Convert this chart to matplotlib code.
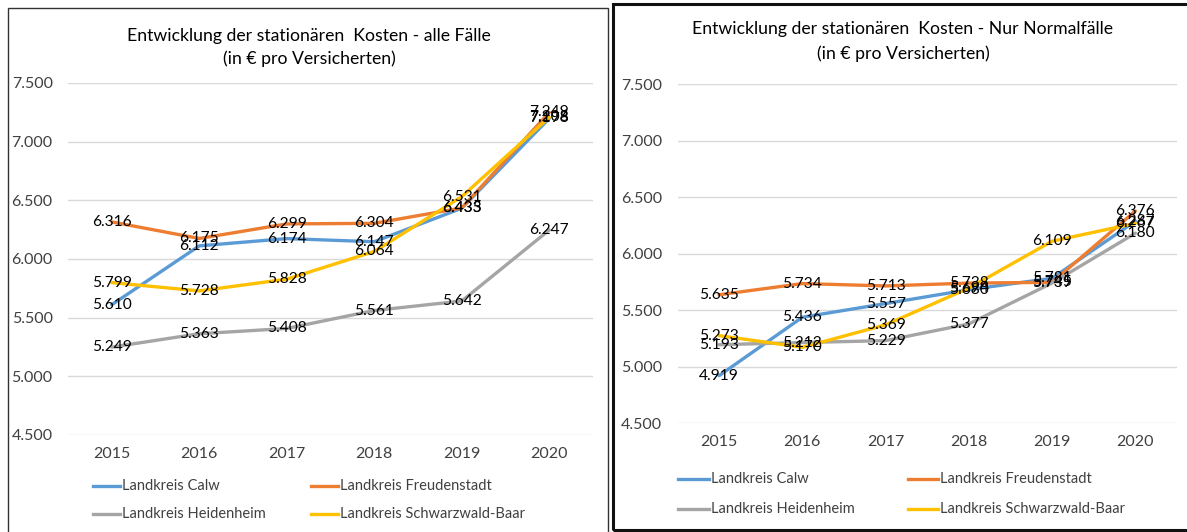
import matplotlib
matplotlib.use("Agg")
import matplotlib.pyplot as plt
from matplotlib.lines import Line2D
from matplotlib.patches import Rectangle
from matplotlib.ticker import FuncFormatter

years = ['2015', '2016', '2017', '2018', '2019', '2020']
series_names = ['Landkreis Calw', 'Landkreis Freudenstadt',
                'Landkreis Heidenheim', 'Landkreis Schwarzwald-Baar']
colors = ['#5B9BD5', '#ED7D31', '#A5A5A5', '#FFC000']

# Left chart: alle Fälle
alle_calw = [5610, 6112, 6174, 6147, 6433, 7198]
alle_freudenstadt = [6316, 6175, 6299, 6304, 6435, 7249]
alle_heidenheim = [5249, 5363, 5408, 5561, 5642, 6247]
alle_schwarzwald = [5799, 5728, 5828, 6064, 6531, 7208]

# Right chart: nur Normalfälle
norm_calw = [4919, 5436, 5557, 5680, 5781, 6287]
norm_freudenstadt = [5635, 5734, 5713, 5738, 5745, 6376]
norm_heidenheim = [5193, 5212, 5229, 5377, 5739, 6180]
norm_schwarzwald = [5273, 5170, 5369, 5694, 6109, 6267]

y_ticks = [4500, 5000, 5500, 6000, 6500, 7000, 7500]

title_left = 'Entwicklung der stationären  Kosten - alle Fälle'
title_right = 'Entwicklung der stationären  Kosten - Nur Normalfälle'
subtitle = '(in € pro Versicherten)'

FONT = 'Lato'
plt.rcParams['font.family'] = [FONT, 'DejaVu Sans']

W, H = 1187, 532
fig = plt.figure(figsize=(W / 100, H / 100), dpi=100)


def fx(px):
    return px / W


def fy(py):
    return 1 - py / H


def de_fmt(v, pos=None):
    return f'{int(round(v)):,}'.replace(',', '.')


def make_chart(x0, x1, ytop, ybot, data, title, title_cx, t1y, t2y,
               leg_rows, leg_cols):
    ax = fig.add_axes([fx(x0), fy(ybot), fx(x1) - fx(x0), fy(ytop) - fy(ybot)])
    ax.set_xlim(-0.5, len(years) - 0.5)
    ax.set_ylim(min(y_ticks), max(y_ticks))
    ax.set_yticks(y_ticks)
    ax.yaxis.set_major_formatter(FuncFormatter(de_fmt))
    ax.set_xticks(range(len(years)))
    ax.set_xticklabels(years)
    for s in ax.spines.values():
        s.set_visible(False)
    ax.tick_params(axis='both', length=0, labelsize=11.5, colors='#404040')
    ax.tick_params(axis='y', pad=11)
    ax.tick_params(axis='x', pad=9)
    ax.grid(axis='y', color='#D9D9D9', linewidth=1)
    ax.set_axisbelow(True)
    xs = list(range(len(years)))
    for vals, c in zip(data, colors):
        ax.plot(xs, vals, color=c, linewidth=2.4, solid_capstyle='round', zorder=2)
    for vals in data:
        for x, v in zip(xs, vals):
            ax.text(x, v, de_fmt(v), ha='center', va='center', fontsize=11.2,
                    color='#000000', zorder=5)
    fig.text(fx(title_cx), fy(t1y), title, ha='center', va='center',
             fontsize=12.7, color='#000000')
    fig.text(fx(title_cx), fy(t2y), subtitle, ha='center', va='center',
             fontsize=12.7, color='#000000')
    # legend
    for i, (name, c) in enumerate(zip(series_names, colors)):
        row = i // 2
        col = i % 2
        hx0, hx1 = leg_cols[col]
        yy = leg_rows[row]
        fig.add_artist(Line2D([fx(hx0), fx(hx1)], [fy(yy), fy(yy)],
                              color=c, linewidth=2.4, transform=fig.transFigure))
        fig.text(fx(hx1 + 2), fy(yy), name, ha='left', va='center',
                 fontsize=10.5, color='#404040')
    return ax


make_chart(68, 593, 83, 435,
           [alle_calw, alle_freudenstadt, alle_heidenheim, alle_schwarzwald],
           title_left, 309, 36, 59, [486, 514], [(93, 120), (311, 338)])
make_chart(677.5, 1177, 84, 423,
           [norm_calw, norm_freudenstadt, norm_heidenheim, norm_schwarzwald],
           title_right, 903, 29, 54, [479, 509], [(677.5, 708.6), (908, 938)])

# panel frames
fig.add_artist(Rectangle((fx(7.5), fy(540)), fx(608) - fx(7.5), fy(7.5) - fy(540),
                         fill=False, edgecolor='#333333', linewidth=1.0,
                         transform=fig.transFigure))
fig.add_artist(Rectangle((fx(612.5), fy(529.5)), fx(1195) - fx(612.5), fy(4) - fy(529.5),
                         fill=False, edgecolor='#111111', linewidth=2.2,
                         transform=fig.transFigure))

fig.savefig('out.png', dpi=100)
